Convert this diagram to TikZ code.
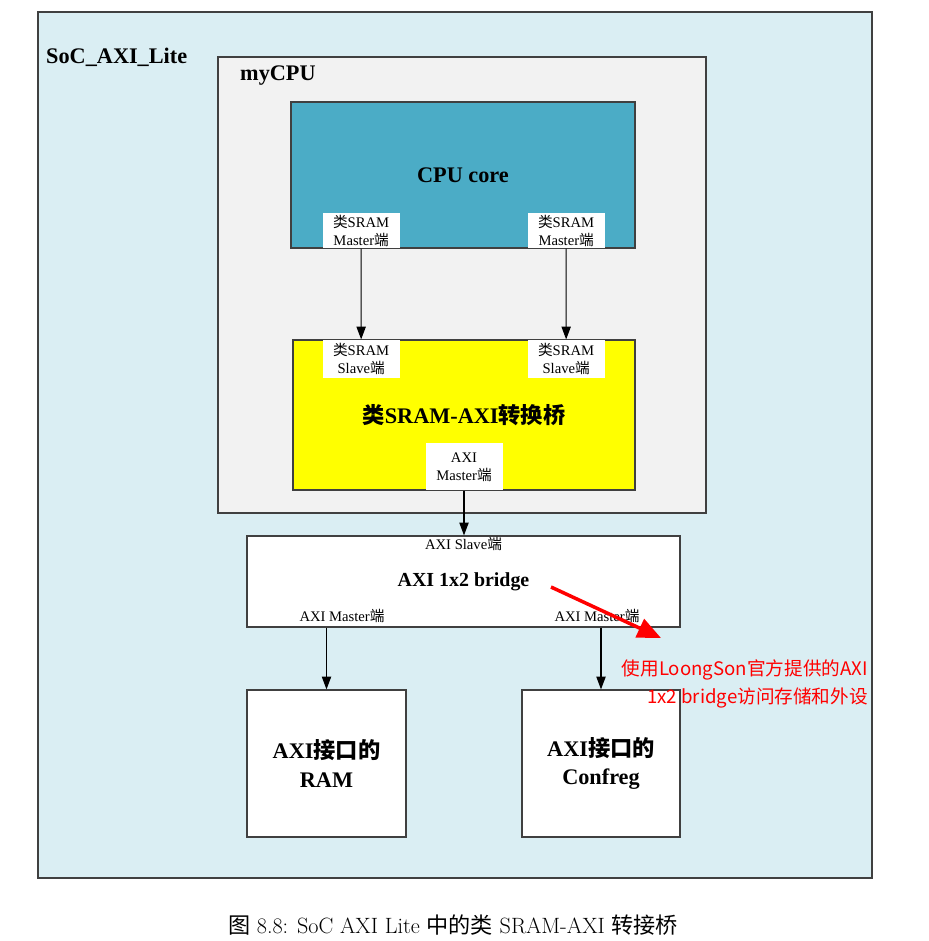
\documentclass[tikz,border=0pt]{standalone}
\usepackage{fontspec}
\newfontfamily\tms{Liberation Serif}
\newfontfamily\cjkfont{Noto Sans CJK SC}
\newcommand{\zh}[1]{{\cjkfont #1}}
\usepackage{xcolor}
\usepackage{tikz}
\usetikzlibrary{arrows.meta, positioning}

\definecolor{socblue}{HTML}{DAEEF3}
\definecolor{cpugray}{HTML}{F2F2F2}
\definecolor{coreblue}{HTML}{4BACC6}
\definecolor{convyellow}{RGB}{255,255,0}
\definecolor{edgegray}{HTML}{404040}
\definecolor{notered}{RGB}{255,0,0}

\begin{document}
\begin{tikzpicture}[
    x=0.03cm, y=-0.03cm,
    box/.style={rectangle, draw=edgegray, line width=1pt, inner sep=0pt, align=center, font=\tms\bfseries\fontsize{19}{24}\selectfont},
    port/.style={rectangle, fill=white, inner sep=0pt, minimum width=2.31cm, align=center, font=\tms\fontsize{12.5}{15.5}\selectfont},
    tag/.style={inner sep=1pt, font=\tms\fontsize{12.5}{15}\selectfont},
    title/.style={inner sep=0pt, font=\tms\bfseries\fontsize{19}{24}\selectfont},
    arrow/.style={line width=0.9pt, -{Triangle[length=11pt, width=8pt]}},
    redarrow/.style={notered, line width=3pt, -{Triangle[length=20pt, width=17pt]}},
    note/.style={inner sep=0pt, text=notered, align=right, font=\cjkfont\fontsize{15.9}{24.7}\selectfont}
]
    \useasboundingbox (0,0) rectangle (929,941);

    \node (soc) [box, fill=socblue, minimum width=25.02cm, minimum height=25.98cm] at (455,445) {};
    \node (soclabel) [title, anchor=west] at (46,57) {SoC\_AXI\_Lite};
    \node (mycpu) [box, fill=cpugray, minimum width=14.64cm, minimum height=13.68cm] at (462,285) {};
    \node (cpulabel) [title, anchor=west] at (240,76) {myCPU};

    \node (core) [box, fill=coreblue, minimum width=10.32cm, minimum height=4.38cm] at (463,175) {CPU core};
    \node (conv) [box, fill=convyellow, minimum width=10.26cm, minimum height=4.5cm] at (464,415) {\zh{类}SRAM-AXI\zh{转换桥}};
    \node (xbar) [box, fill=white, minimum width=12.99cm, minimum height=2.73cm, font=\tms\bfseries\fontsize{17}{20}\selectfont] at (463.5,581.5) {AXI 1x2 bridge};
    \node (ram) [box, fill=white, minimum width=4.77cm, minimum height=4.41cm] at (326.5,763.5) {AXI\zh{接口的}\\RAM};
    \node (confreg) [box, fill=white, minimum width=4.74cm, minimum height=4.41cm] at (601,763.5) {AXI\zh{接口的}\\Confreg};

    % ports
    \node (master1) [port, minimum height=1.05cm, above right=0pt and 0.96cm of core.south west] {\zh{类}SRAM\\Master\zh{端}};
    \node (master2) [port, minimum height=1.05cm, above right=0pt and 7.11cm of core.south west] {\zh{类}SRAM\\Master\zh{端}};
    \node (slave1) [port, minimum height=1.14cm, below right=0pt and 0.9cm of conv.north west] {\zh{类}SRAM\\Slave\zh{端}};
    \node (slave2) [port, minimum height=1.14cm, below right=0pt and 7.05cm of conv.north west] {\zh{类}SRAM\\Slave\zh{端}};
    \node (axim) [port, minimum height=1.41cm, above=0pt of conv.south] {AXI\\Master\zh{端}};

    \node (xslave) [tag, below=0pt of xbar.north] {AXI Slave\zh{端}};
    \node (xmaster1) [tag] at (342,616) {AXI Master\zh{端}};
    \node (xmaster2) [tag] at (597,616) {AXI Master\zh{端}};

    \draw [arrow] (master1) -- (slave1);
    \draw [arrow] (master2) -- (slave2);
    \draw [arrow] (axim) -- (axim |- xbar.north);
    \draw [arrow] (ram |- xbar.south) -- (ram);
    \draw [arrow] (confreg |- xbar.south) -- (confreg);

    % note
    \node (note) [note, anchor=north east] at (868,659) {使用LoongSon官方提供的AXI\\1x2 bridge访问存储和外设};
    \coordinate (notetail) at (551,587);
    \coordinate (notetip) at (661,638);
    \draw [redarrow] (notetail) -- (notetip);

    \node (caption) [font=\fontsize{18.9}{22}\selectfont] at (453,925) {\zh{图} 8.8: SoC AXI Lite \zh{中的类} SRAM-AXI \zh{转接桥}};
\end{tikzpicture}
\end{document}
